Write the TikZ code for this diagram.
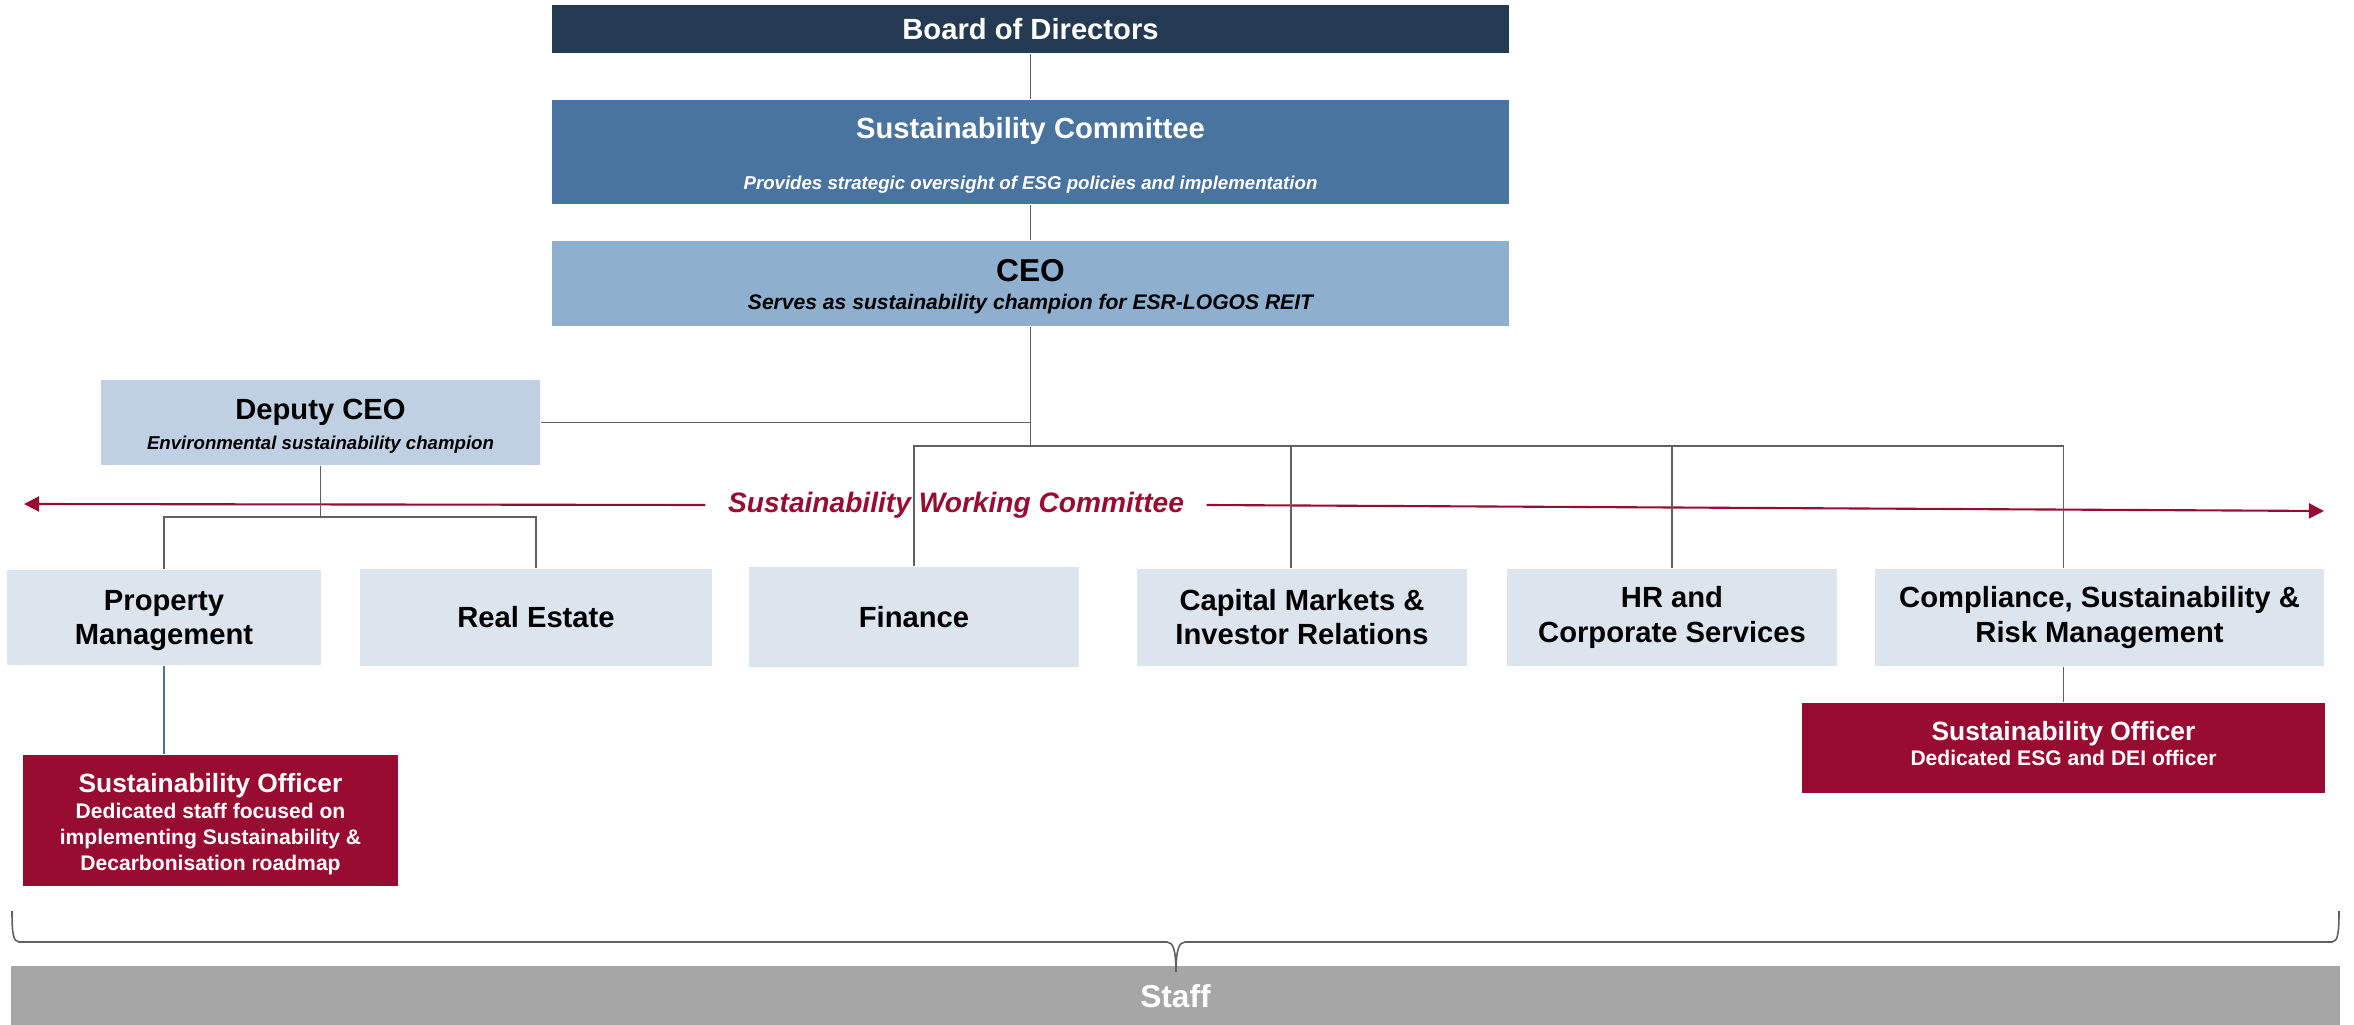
\documentclass[tikz,border=0pt]{standalone}
\usepackage{fontspec}
\setmainfont{Liberation Sans}
\usetikzlibrary{arrows.meta}

\definecolor{board}{HTML}{243A52}
\definecolor{committee}{HTML}{4A74A0}
\definecolor{ceoblue}{HTML}{8FAFCF}
\definecolor{deputy}{HTML}{BFD0E3}
\definecolor{unit}{HTML}{DCE4EE}
\definecolor{crimson}{HTML}{990C31}
\definecolor{staffgray}{HTML}{A6A6A6}
\definecolor{link}{HTML}{606060}

\begin{document}
\begin{tikzpicture}
  [x=0.01cm, y=-0.01cm,
   every node/.style={inner sep=0, align=center},
   box/.style={rectangle, minimum height=0.97cm},
   unitbox/.style={box, fill=unit, font=\fontsize{8.3}{9.7}\selectfont\bfseries},
   big/.style={font=\fontsize{8.3}{9.7}\selectfont\bfseries, text depth=0pt},
   small/.style={font=\fontsize{5.3}{6.5}\selectfont\bfseries\itshape, text depth=0pt},
   officer/.style={font=\fontsize{6}{7.4}\selectfont\bfseries, text=white, text depth=0pt},
   link/.style={draw=link, line width=0.45pt},
   swline/.style={draw=crimson, line width=0.6pt, -{Triangle[length=4.3pt, width=4.3pt]}}]

  \useasboundingbox (0,0) rectangle (2354,1025);

  % top of the chart
  \node[box, fill=board, minimum width=9.57cm, minimum height=0.48cm, big, text=white] (bod) at (1030.5,29) {Board of Directors};
  \node[box, fill=committee, minimum width=9.57cm, minimum height=1.04cm] (sc) at (1030.5,152) {};
  \node[big, text=white] (sctitle) at (1030.5,128) {Sustainability Committee};
  \node[small, text=white] (scsub) at (1030.5,183) {Provides strategic oversight of ESG policies and implementation};
  \node[box, fill=ceoblue, minimum width=9.57cm, minimum height=0.85cm] (ceo) at (1030.5,283.5) {};
  \node[font=\fontsize{9}{10}\selectfont\bfseries] (ceotitle) at (1030.5,271) {CEO};
  \node[font=\fontsize{6}{7}\selectfont\bfseries\itshape] (ceosub) at (1030.5,304) {Serves as sustainability champion for ESR-LOGOS REIT};
  \node[box, fill=deputy, minimum width=4.39cm, minimum height=0.85cm] (dep) at (320.5,422.5) {};
  \node[big] (deptitle) at (320.5,409) {Deputy CEO};
  \node[small] (depsub) at (320.5,443) {Environmental sustainability champion};

  % working committee
  \node[font=\fontsize{8}{9}\selectfont\bfseries\itshape, text=crimson, inner xsep=0.22cm] (swc) at (956,505) {Sustainability Working Committee};
  \coordinate (swl) at (24,504);
  \coordinate (swr) at (2324,511);
  \draw[swline] (swc.west) -- (swl);
  \draw[swline] (swc.east) -- (swr);

  % departments
  \node[unitbox, minimum width=3.14cm, minimum height=0.95cm, text depth=0pt] (pm) at (164,617.5) {Property\\Management};
  \node[unitbox, minimum width=3.52cm] (re) at (536,617.5) {Real Estate};
  \node[unitbox, minimum width=3.30cm, minimum height=1.00cm] (fin) at (914,617) {Finance};
  \node[unitbox, minimum width=3.30cm] (cm) at (1302,617.5) {Capital Markets \&\\Investor Relations};
  \node[unitbox, minimum width=3.30cm] (hr) at (1672,617.5) {HR and\\Corporate Services};
  \node[unitbox, minimum width=4.49cm] (comp) at (2099.5,617.5) {Compliance, Sustainability \&\\Risk Management};

  % sustainability officers
  \node[box, fill=crimson, minimum width=3.75cm, minimum height=1.31cm] (so1) at (210.5,820.5) {};
  \node[officer, font=\fontsize{7.5}{8.5}\selectfont\bfseries] (so1title) at (210.5,783) {Sustainability Officer};
  \node[officer] (so1txt) at (210.5,837) {Dedicated staff focused on\\implementing Sustainability \&\\Decarbonisation roadmap};
  \node[box, fill=crimson, minimum width=5.23cm, minimum height=0.90cm] (so2) at (2063.5,748) {};
  \node[officer, font=\fontsize{7.5}{8.5}\selectfont\bfseries] (so2title) at (2063.5,731) {Sustainability Officer};
  \node[officer] (so2txt) at (2063.5,758) {Dedicated ESG and DEI officer};

  % staff
  \node[box, fill=staffgray, minimum width=23.27cm, minimum height=0.59cm, text=white, font=\fontsize{9}{10}\selectfont\bfseries] (staff) at (1175.5,996) {Staff};

  % reporting lines
  \coordinate (bus) at (1030.5,446);
  \coordinate (split) at (320.5,517);
  \draw[link] (bod.south) -- (sc.north);
  \draw[link] (sc.south) -- (ceo.north);
  \draw[link] (ceo.south) -- (bus);
  \draw[link] (dep.east) -- (dep.east -| ceo.south);
  \draw[link] (fin.north) |- (bus) -| (hr.north);
  \draw[link] ([xshift=-0.11cm]cm.north) -- ([xshift=-0.11cm]cm.north |- bus);
  \draw[link] (bus) -| (so2.north |- comp.north);
  \draw[link] (so2.north |- comp.south) -- (so2.north);
  \draw[link] (dep.south) -- (split);
  \draw[link] (pm.north) |- (split) -| (re.north);
  \draw[link, draw=committee] (pm.south) -- (pm.south |- so1.north);

  % brace over staff
  \coordinate (bracetip) at (1176,972);
  \draw[link] (12,911) .. controls (12,932) and (13,942) .. (19,942) -- (1167,942)
    .. controls (1173,942) and (1176,950) .. (bracetip);
  \draw[link] (2339,911) .. controls (2339,932) and (2338,942) .. (2332,942) -- (1185,942)
    .. controls (1179,942) and (1176,950) .. (bracetip);

\end{tikzpicture}
\end{document}
